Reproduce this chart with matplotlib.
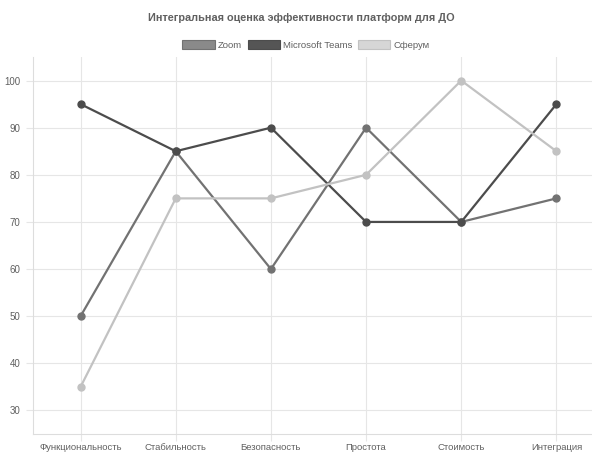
import matplotlib
matplotlib.use("Agg")
import matplotlib.pyplot as plt
from matplotlib.patches import Patch

plt.rcParams['font.family'] = ['Liberation Sans', 'DejaVu Sans']

categories = ['Функциональность', 'Стабильность', 'Безопасность', 'Простота', 'Стоимость', 'Интеграция']
zoom = [50, 85, 60, 90, 70, 75]
teams = [95, 85, 90, 70, 70, 95]
sferum = [35, 75, 75, 80, 100, 85]

series = [
    ('Zoom', zoom, '#727272', '#8a8a8a'),
    ('Microsoft Teams', teams, '#4c4c4c', '#555555'),
    ('Сферум', sferum, '#c2c2c2', '#d6d6d6'),
]

W, H = 592, 453
fig = plt.figure(figsize=(W / 100, H / 100), dpi=100)

# plot area in pixels (right edge runs past the image like the original)
left, right, top, bottom = 33, 604, 57, 434
ax = fig.add_axes([left / W, 1 - bottom / H, (right - left) / W, (bottom - top) / H])

x = list(range(len(categories)))
for name, vals, col, _ in series:
    ax.plot(x, vals, color=col, linewidth=1.6, marker='o', markersize=5, zorder=3)

ax.set_xlim(-0.5, len(categories) - 0.5)
ax.set_ylim(25, 105)
ax.set_yticks([30, 40, 50, 60, 70, 80, 90, 100])
ax.set_xticks(x)
ax.set_xticklabels(categories)
ax.grid(True, color='#e6e6e6', linewidth=0.8)
ax.set_axisbelow(True)
for s in ['top', 'right']:
    ax.spines[s].set_visible(False)
for s in ['left', 'bottom']:
    ax.spines[s].set_color('#dddddd')
    ax.spines[s].set_linewidth(0.8)
ax.tick_params(colors='#e6e6e6', labelcolor='#606060', labelsize=7, length=5, width=0.8)
ax.tick_params(axis='x', labelsize=6.8, pad=1.5)
ax.tick_params(axis='y', pad=4)

fig.text(0.509, 1 - 18 / H, 'Интегральная оценка эффективности платформ для ДО',
         ha='center', va='center', fontsize=7.8, fontweight='bold', color='#606060')

handles = [Patch(facecolor=fc, edgecolor=lc, linewidth=0.8, label=name) for name, _, lc, fc in series]
fig.legend(handles=handles, loc='center', bbox_to_anchor=(0.517, 1 - 45 / H), ncol=3, frameon=False,
           fontsize=6.8, labelcolor='#606060', handlelength=3.4, handleheight=1.05,
           handletextpad=0.35, columnspacing=0.6, borderpad=0)

fig.savefig('out.png', dpi=100)
